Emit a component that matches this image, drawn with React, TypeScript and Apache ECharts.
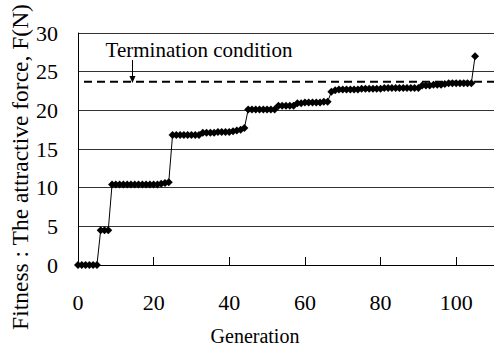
import React, { useEffect, useRef } from "react";
import * as echarts from "echarts";

// Fitness value per generation (generation = index, 0..105)
const fitness: number[] = [
  0, 0, 0, 0, 0, 0,
  4.5, 4.5, 4.5,
  10.4, 10.4, 10.4, 10.4, 10.4, 10.4, 10.4, 10.4, 10.4, 10.4, 10.4, 10.4, 10.4,
  10.5, 10.6, 10.7,
  16.8, 16.8, 16.8, 16.8, 16.8, 16.8, 16.8, 16.8,
  17.1, 17.1, 17.1, 17.1, 17.2, 17.2, 17.2, 17.2,
  17.3, 17.4, 17.5, 17.7,
  20.1, 20.1, 20.1, 20.1, 20.1, 20.1, 20.1, 20.1,
  20.6, 20.6, 20.6, 20.6, 20.6,
  20.9, 20.9, 21.0, 21.0, 21.0, 21.0, 21.0, 21.1, 21.1,
  22.4,
  22.6,
  22.7, 22.7, 22.7, 22.7, 22.7, 22.7, 22.8, 22.8, 22.8, 22.8, 22.8, 22.8,
  22.9, 22.9, 22.9, 22.9, 22.9, 22.9, 22.9, 22.9, 22.9, 22.9,
  23.2, 23.2, 23.2, 23.3, 23.3, 23.3,
  23.4, 23.5, 23.5, 23.5, 23.5, 23.5, 23.5, 23.5,
  27.0,
];

const terminationValue = 23.7;
const terminationLabel = "Termination condition";
const arrowGeneration = 14.4;
const arrowTop = 26.5;
const xTicks = [0, 20, 40, 60, 80, 100];
const yTicks = [0, 5, 10, 15, 20, 25, 30];
const xName = "Generation";
const yName = "Fitness : The attractive force, F(N)";

const FONT = "Liberation Serif";
const tickRich = { t: { fontFamily: FONT, fontSize: 22, color: "#000" } };

export default function App() {
  const ref = useRef<HTMLDivElement>(null);

  useEffect(() => {
    if (!ref.current) return;
    const chart = echarts.init(ref.current, undefined, { renderer: "svg" });
    const points = fitness.map((v, i) => [i, v]);
    chart.setOption({
      animation: false,
      backgroundColor: "#ffffff",
      textStyle: { fontFamily: FONT },
      grid: { left: 78, right: -2, top: 33, bottom: 85, containLabel: false },
      xAxis: {
        type: "value",
        min: 0,
        max: 110,
        interval: 20,
        axisLine: { show: true, lineStyle: { color: "#000", width: 1 } },
        axisTick: { show: true, inside: true, length: 8, lineStyle: { color: "#000" } },
        axisLabel: {
          margin: 26,
          fontFamily: FONT,
          fontSize: 22,
          color: "#000",
          showMaxLabel: false,
          rich: tickRich,
          formatter: (v: number) => (xTicks.includes(v) ? `{t|${v}}` : ""),
        },
        splitLine: { show: false },
      },
      yAxis: {
        type: "value",
        min: 0,
        max: 30,
        interval: 5,
        axisLine: { show: true, lineStyle: { color: "#000", width: 1 } },
        axisTick: { show: false },
        axisLabel: {
          margin: 20,
          fontFamily: FONT,
          fontSize: 22,
          color: "#000",
          rich: tickRich,
          formatter: (v: number) => (yTicks.includes(v) ? `{t|${v}}` : ""),
        },
        splitLine: { show: true, lineStyle: { color: "#333", width: 1 } },
      },
      series: [
        {
          type: "line",
          data: [
            [0, terminationValue],
            [110, terminationValue],
          ],
          symbol: "none",
          lineStyle: { color: "#000", width: 2, type: [8, 5], dashOffset: -6 },
          z: 3,
          markLine: {
            silent: true,
            symbol: ["none", "triangle"],
            symbolSize: [6, 7],
            label: { show: false },
            lineStyle: { color: "#000", width: 1, type: "solid" },
            data: [
              [
                { coord: [arrowGeneration, arrowTop] },
                { coord: [arrowGeneration, terminationValue + 0.3] },
              ],
            ],
          },
        },
        {
          type: "line",
          data: points,
          symbol: "diamond",
          symbolSize: 8,
          itemStyle: { color: "#000" },
          lineStyle: { color: "#000", width: 1 },
          z: 4,
        },
      ],
      graphic: [
        {
          type: "text",
          x: 199,
          y: 50,
          style: {
            text: terminationLabel,
            font: `21px ${FONT}`,
            fill: "#000",
            align: "center",
            verticalAlign: "middle",
          },
        },
        {
          type: "text",
          x: 255,
          y: 336,
          style: {
            text: xName,
            font: `20px ${FONT}`,
            fill: "#000",
            align: "center",
            verticalAlign: "middle",
          },
        },
        {
          type: "text",
          x: 20,
          y: 167,
          rotation: Math.PI / 2,
          style: {
            text: yName,
            font: `23.5px ${FONT}`,
            fill: "#000",
            align: "center",
            verticalAlign: "middle",
          },
        },
      ],
    });
    return () => chart.dispose();
  }, []);

  return (
    <div
      ref={ref}
      style={{ position: "fixed", left: 0, top: 0, width: 494, height: 350, background: "#fff" }}
    />
  );
}
